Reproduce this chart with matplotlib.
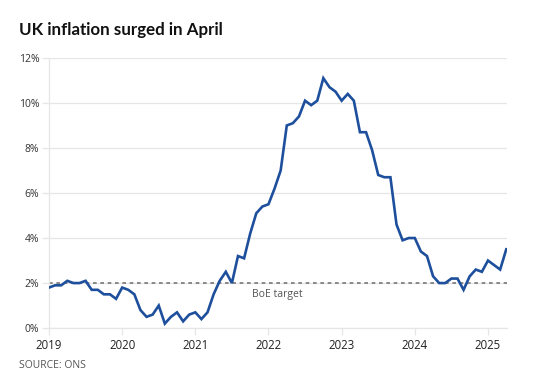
import numpy as np
import matplotlib.pyplot as plt

# UK CPI annual rate, monthly from Jan 2019 to Apr 2025
cpi_2019 = [1.8, 1.9, 1.9, 2.1, 2.0, 2.0, 2.1, 1.7, 1.7, 1.5, 1.5, 1.3]
cpi_2020 = [1.8, 1.7, 1.5, 0.8, 0.5, 0.6, 1.0, 0.2, 0.5, 0.7, 0.3, 0.6]
cpi_2021 = [0.7, 0.4, 0.7, 1.5, 2.1, 2.5, 2.0, 3.2, 3.1, 4.2, 5.1, 5.4]
cpi_2022 = [5.5, 6.2, 7.0, 9.0, 9.1, 9.4, 10.1, 9.9, 10.1, 11.1, 10.7, 10.5]
cpi_2023 = [10.1, 10.4, 10.1, 8.7, 8.7, 7.9, 6.8, 6.7, 6.7, 4.6, 3.9, 4.0]
cpi_2024 = [4.0, 3.4, 3.2, 2.3, 2.0, 2.0, 2.2, 2.2, 1.7, 2.3, 2.6, 2.5]
cpi_2025 = [3.0, 2.8, 2.6, 3.5]

years = [2019, 2020, 2021, 2022, 2023, 2024, 2025]
yticks = [0, 2, 4, 6, 8, 10, 12]
boe_target = 2.0

cpi = np.array(cpi_2019 + cpi_2020 + cpi_2021 + cpi_2022 + cpi_2023 + cpi_2024 + cpi_2025)
t = 2019 + np.arange(len(cpi)) / 12

fig = plt.figure(figsize=(5.42, 3.86), dpi=100)
ax = fig.add_axes([0.0904, 0.150, 0.845, 0.700])

grid_c = '#e6e6e6'
for y in yticks:
    ax.axhline(y, color=grid_c, lw=0.9, zorder=0)

ax.axhline(boe_target, color='#777777', lw=1.2, ls=(0, (2.2, 2.2)), zorder=1)
ax.text(2021.77, boe_target - 0.25, 'BoE target', color='#555555', fontsize=7.5,
        va='top', ha='left', family='Open Sans')

ax.plot(t, cpi, color='#1d4f9c', lw=1.9, zorder=3, solid_joinstyle='miter')

ax.set_xlim(2019, 2025.26)
ax.set_ylim(0, 12)
ax.set_yticks(yticks)
ax.set_yticklabels([f'{y}%' for y in yticks])
ax.set_xticks(years)
ax.set_xticklabels([str(y) for y in years])

for s in ['top', 'right']:
    ax.spines[s].set_visible(False)
for s in ['left', 'bottom']:
    ax.spines[s].set_color(grid_c)
    ax.spines[s].set_linewidth(0.9)

ax.tick_params(axis='y', length=5, width=0.9, color=grid_c, pad=2, labelsize=7.5,
               labelcolor='#333333')
ax.tick_params(axis='x', length=5, width=0.9, color=grid_c, pad=3, labelsize=8.3,
               labelcolor='#222222')
for lab in ax.get_xticklabels() + ax.get_yticklabels():
    lab.set_family('Open Sans')

fig.text(0.035, 0.922, 'UK inflation surged in April', fontsize=12.2, fontweight='bold',
         color='#111111', family='Lato', va='center')
fig.text(0.035, 0.054, 'SOURCE: ONS', fontsize=7.5, color='#555555', family='Open Sans',
         va='center')

fig.savefig('out.png', dpi=100)
